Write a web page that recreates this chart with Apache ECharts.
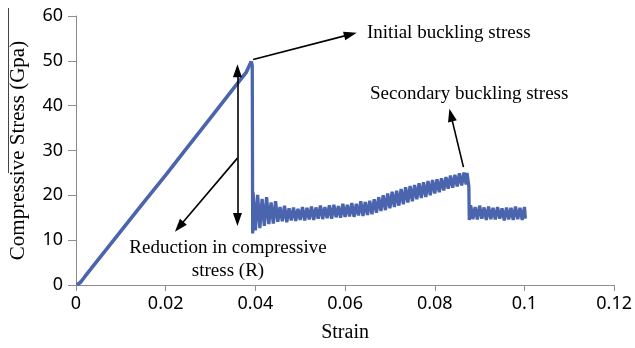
<!DOCTYPE html>
<html>
<head>
<meta charset="utf-8">
<script src="https://cdn.jsdelivr.net/npm/echarts@6/dist/echarts.min.js"></script>
<style>
  html, body { margin: 0; padding: 0; background: #fff; }
  #chart { width: 635px; height: 348px; }
</style>
</head>
<body>
<div id="chart"></div>
<script>
// Strain ticks on the horizontal axis
const strainTicks = [0, 0.02, 0.04, 0.06, 0.08, 0.1, 0.12];
// Stress ticks on the vertical axis (GPa)
const stressTicks = [0, 10, 20, 30, 40, 50, 60];

// Elastic loading up to the initial buckling peak: [strain, stress]
const loadingCurve = [
  [0.0002, 0], [0.001, 0.6], [0.002, 1.9], [0.005, 5.7], [0.01, 12.0],
  [0.015, 18.3], [0.02, 24.5], [0.025, 30.9], [0.03, 37.3], [0.035, 43.7],
  [0.038, 47.5], [0.0391, 49.9]
];

// Post-buckling response (noisy plateau, secondary peak, second drop): [strain, stress]
const postBucklingCurve = [
  [0.0391, 49.9], [0.0393, 49.0], [0.0394, 11.5],
  [0.0395, 20.6], [0.0400, 12.2], [0.0405, 20.1], [0.0410, 12.7], [0.0415, 19.2],
  [0.0420, 13.2], [0.0425, 19.6], [0.0430, 13.6], [0.0435, 18.4], [0.0440, 13.7],
  [0.0445, 18.7], [0.0450, 14.1], [0.0455, 17.4], [0.0460, 14.2], [0.0465, 17.7],
  [0.0470, 14.0], [0.0475, 17.1], [0.0480, 14.4], [0.0485, 17.3], [0.0490, 14.3],
  [0.0495, 17.0], [0.0500, 14.5], [0.0505, 17.4], [0.0510, 14.4], [0.0515, 17.2],
  [0.0520, 14.6], [0.0525, 17.5], [0.0530, 14.5], [0.0535, 17.3], [0.0540, 14.8],
  [0.0545, 17.7], [0.0550, 14.7], [0.0555, 17.4], [0.0560, 14.9], [0.0565, 17.8],
  [0.0570, 14.8], [0.0575, 17.9], [0.0580, 15.1], [0.0585, 17.6], [0.0590, 15.0],
  [0.0595, 18.1], [0.0600, 15.2], [0.0605, 17.9], [0.0610, 15.3], [0.0615, 18.3],
  [0.0620, 15.2], [0.0625, 18.1], [0.0630, 15.5], [0.0635, 18.7], [0.0640, 15.4],
  [0.0645, 18.5], [0.0650, 15.6], [0.0655, 18.8], [0.0660, 15.8], [0.0665, 19.1],
  [0.0670, 16.1], [0.0675, 19.6], [0.0680, 16.5], [0.0685, 20.0], [0.0690, 16.7],
  [0.0695, 20.4], [0.0700, 17.1], [0.0705, 20.8], [0.0710, 17.4], [0.0715, 21.0],
  [0.0720, 17.7], [0.0725, 21.4], [0.0730, 18.0], [0.0735, 21.8], [0.0740, 18.4],
  [0.0745, 22.1], [0.0750, 18.7], [0.0755, 22.3], [0.0760, 19.1], [0.0765, 22.7],
  [0.0770, 19.4], [0.0775, 22.9], [0.0780, 19.6], [0.0785, 23.2], [0.0790, 20.0],
  [0.0795, 23.4], [0.0800, 20.4], [0.0805, 23.6], [0.0810, 20.7], [0.0815, 23.8],
  [0.0820, 21.1], [0.0825, 24.1], [0.0830, 21.5], [0.0835, 24.4], [0.0840, 21.7],
  [0.0845, 24.6], [0.0850, 22.0], [0.0855, 24.9], [0.0860, 22.2], [0.0865, 25.1],
  [0.0870, 22.4], [0.0872, 25.0], [0.0876, 22.0], [0.0877, 14.5],
  [0.0880, 17.8], [0.0885, 14.7], [0.0890, 17.4], [0.0895, 14.6], [0.0900, 17.7],
  [0.0905, 14.8], [0.0910, 17.3], [0.0915, 14.5], [0.0920, 17.5], [0.0925, 14.7],
  [0.0930, 17.2], [0.0935, 14.6], [0.0940, 17.4], [0.0945, 14.8], [0.0950, 17.1],
  [0.0955, 14.4], [0.0960, 17.3], [0.0965, 14.6], [0.0970, 17.2], [0.0975, 14.5],
  [0.0980, 17.5], [0.0985, 14.7], [0.0990, 17.2], [0.0995, 14.5], [0.1000, 17.4],
  [0.1002, 14.8]
];

// Annotation arrows in data coordinates: [from, to]
const initialArrow = [[0.0395, 50.3], [0.0612, 55.9]];
const secondaryArrow = [[0.0864, 26.3], [0.0836, 37.9]];
const reductionSpan = [[0.0360, 47.8], [0.0360, 14.6]];
const reductionPointer = [[0.0360, 28.3], [0.0230, 13.0]];

const blue = '#4a64ad';
const serif = '"Liberation Serif", "Times New Roman", serif';
const sans = '"Noto Sans", "Open Sans", sans-serif';

function fmtStrain(v) { return String(+v.toFixed(2)); }

const chart = echarts.init(document.getElementById('chart'), null, { renderer: 'canvas' });

const arrowStyle = { color: '#000', width: 1.6, type: 'solid' };

chart.setOption({
  animation: false,
  backgroundColor: '#fff',
  grid: { left: 76, right: 18, top: 16, bottom: 61, containLabel: false },
  xAxis: {
    type: 'value',
    min: strainTicks[0],
    max: strainTicks[strainTicks.length - 1],
    interval: strainTicks[1] - strainTicks[0],
    name: 'Strain',
    nameLocation: 'middle',
    nameGap: 38,
    nameTextStyle: { fontFamily: serif, fontSize: 20, color: '#000' },
    axisLine: { show: true, lineStyle: { color: '#8c8c8c', width: 1 } },
    axisTick: { show: true, length: 6, lineStyle: { color: '#8c8c8c' } },
    axisLabel: { formatter: fmtStrain, fontFamily: sans, fontSize: 18, color: '#000', margin: 10 },
    splitLine: { show: false }
  },
  yAxis: {
    type: 'value',
    min: stressTicks[0],
    max: stressTicks[stressTicks.length - 1],
    interval: stressTicks[1] - stressTicks[0],
    name: 'Compressive Stress (Gpa)',
    nameLocation: 'middle',
    nameGap: 47,
    nameRotate: 90,
    nameTextStyle: { fontFamily: serif, fontSize: 21, color: '#000' },
    axisLine: { show: true, lineStyle: { color: '#8c8c8c', width: 1 } },
    axisTick: { show: true, length: 8, lineStyle: { color: '#8c8c8c' } },
    axisLabel: { fontFamily: sans, fontSize: 18, color: '#000', margin: 13 },
    splitLine: { show: false }
  },
  series: [
    {
      name: 'Loading',
      type: 'line',
      data: loadingCurve,
      showSymbol: false,
      symbol: 'none',
      lineStyle: { color: blue, width: 3.6 },
      z: 3,
      markLine: {
        silent: true,
        symbol: ['none', 'triangle'],
        symbolSize: [9, 13],
        label: { show: false },
        lineStyle: arrowStyle,
        emphasis: { disabled: true },
        data: [
          [{ coord: initialArrow[0] }, { coord: initialArrow[1] }],
          [{ coord: secondaryArrow[0] }, { coord: secondaryArrow[1] }],
          [{ coord: reductionSpan[0], symbol: 'triangle' }, { coord: reductionSpan[1], symbol: 'triangle' }],
          [{ coord: reductionPointer[0] }, { coord: reductionPointer[1] }]
        ]
      }
    },
    {
      name: 'Post-buckling',
      type: 'line',
      data: postBucklingCurve,
      showSymbol: false,
      symbol: 'none',
      lineStyle: { color: blue, width: 3.3, join: 'bevel' },
      z: 2
    }
  ],
  graphic: [
    { type: 'line', shape: { x1: 8.5, y1: 8, x2: 8.5, y2: 173 }, style: { stroke: '#444', lineWidth: 1 } },
    { type: 'text', x: 367, y: 33, style: { text: 'Initial buckling stress', font: '19px ' + serif, fill: '#000', align: 'left', verticalAlign: 'middle' } },
    { type: 'text', x: 370, y: 94, style: { text: 'Secondary buckling stress', font: '19px ' + serif, fill: '#000', align: 'left', verticalAlign: 'middle' } },
    { type: 'text', x: 228, y: 248, style: { text: 'Reduction in compressive', font: '19px ' + serif, fill: '#000', align: 'center', verticalAlign: 'middle' } },
    { type: 'text', x: 228, y: 271, style: { text: 'stress (R)', font: '19px ' + serif, fill: '#000', align: 'center', verticalAlign: 'middle' } }
  ]
});
</script>
</body>
</html>
